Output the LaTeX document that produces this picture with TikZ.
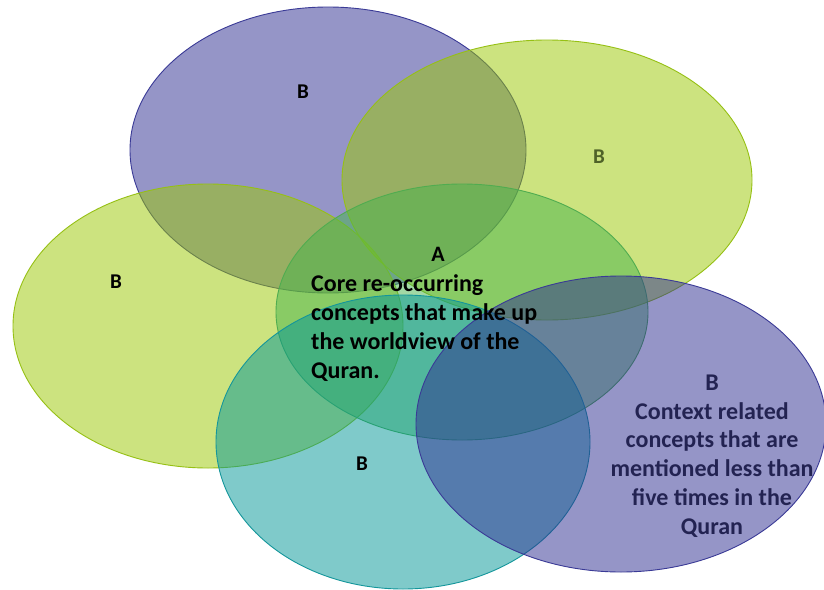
\documentclass[tikz,border=0pt]{standalone}
\usepackage{fontspec}
\setmainfont{Carlito}
% fill colours, blended at half opacity
\definecolor{setpurple}{RGB}{45,45,145}
\definecolor{setyellow}{RGB}{155,201,1}
\definecolor{setgreen}{RGB}{71,180,76}
\definecolor{setteal}{RGB}{1,151,151}
% outline colours
\definecolor{edgepurple}{RGB}{58,58,150}
\definecolor{edgeyellow}{RGB}{150,192,20}
\definecolor{edgegreen}{RGB}{80,172,80}
\definecolor{edgeteal}{RGB}{20,150,155}
% text colours
\definecolor{textolive}{RGB}{79,98,40}
\definecolor{textnavy}{RGB}{35,35,82}
\begin{document}
\begin{tikzpicture}[x=1pt,y=-1pt,
  venn/.style={fill opacity=0.5, draw opacity=1, line width=0.9pt},
  lbl/.style={font=\bfseries\fontsize{21}{29}\selectfont, inner sep=0pt},
  body/.style={font=\bfseries\fontsize{24}{29.3}\selectfont, inner sep=0pt}]
\useasboundingbox (0,0) rectangle (824,589);
\fill[white] (0,0) rectangle (824,589);

% the six overlapping sets
\draw[venn, draw=edgepurple, fill=setpurple] (328,150) ellipse [x radius=198pt, y radius=143pt];
\draw[venn, draw=edgeyellow, fill=setyellow] (547,180) ellipse [x radius=205pt, y radius=140pt];
\draw[venn, draw=edgeyellow, fill=setyellow] (208,326) ellipse [x radius=195pt, y radius=142pt];
\draw[venn, draw=edgegreen, fill=setgreen] (462,312) ellipse [x radius=186pt, y radius=128pt];
\draw[venn, draw=edgeteal, fill=setteal] (403,442) ellipse [x radius=187pt, y radius=147pt];
\draw[venn, draw=edgepurple, fill=setpurple] (621,424) ellipse [x radius=205pt, y radius=148pt];

% labels
\node[lbl] (btl) at (303,92) {B};
\node[lbl, text=textolive] (btr) at (599,157) {B};
\node[lbl] (bl) at (116,282) {B};
\node[lbl] (bb) at (362,464) {B};
\node[lbl, font=\bfseries\fontsize{22}{29}\selectfont] (a) at (438,254) {A};
\node[body, anchor=north west, align=left] (core) at (311,274)
  {Core re-occurring\\concepts that make up\\the worldview of the\\Quran.};
\node[body, text=textnavy, align=center, font=\bfseries\fontsize{24}{28.8}\selectfont] (ctx) at (712,456)
  {B\\Context related\\concepts that are\\mentioned less than\\five times in the\\Quran};
\end{tikzpicture}
\end{document}
